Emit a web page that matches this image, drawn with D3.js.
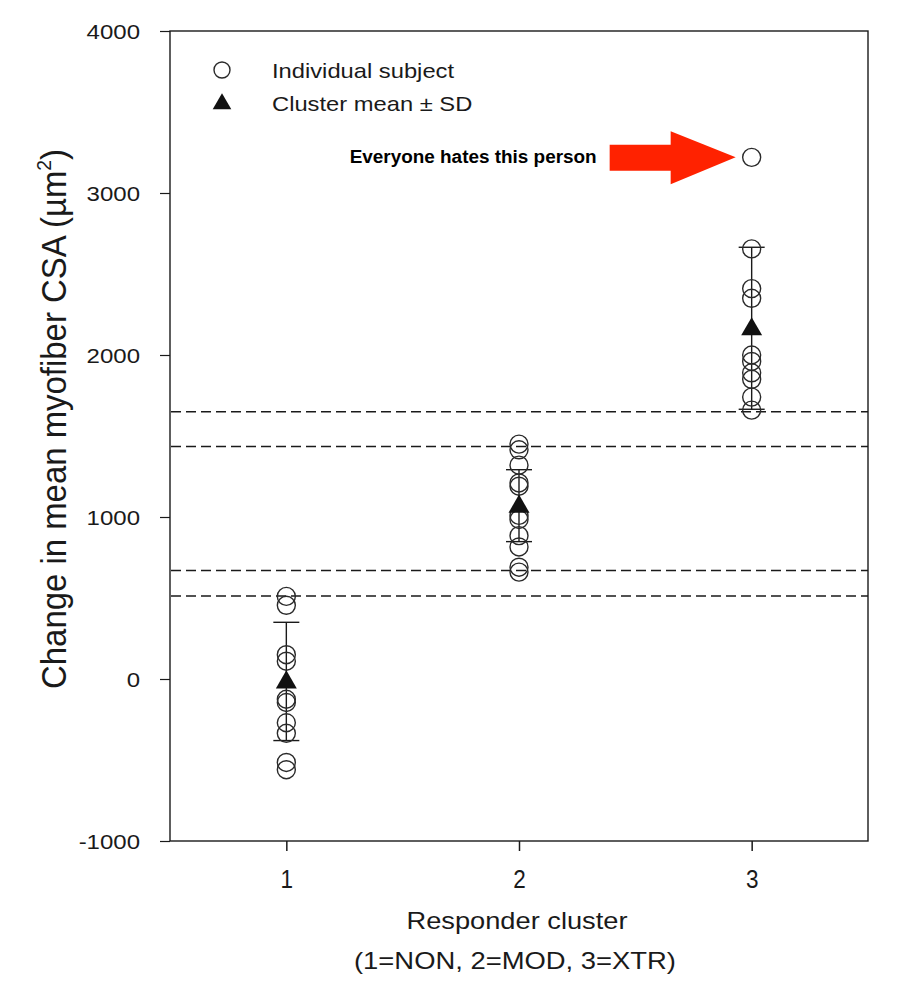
<!DOCTYPE html>
<html>
<head>
<meta charset="utf-8">
<script src="https://cdn.jsdelivr.net/npm/d3@7"></script>
<style>
  body { margin: 0; background: #fff; }
  svg { display: block; font-family: "Liberation Sans", Arial, Helvetica, sans-serif; }
</style>
</head>
<body>
<svg id="chart" width="916" height="986"></svg>
<script>
// ---- data ----
const clusters = [1, 2, 3];
const clusterLabels = ["1", "2", "3"];
const cluster1Values = [510, 455, 150, 110, -125, -145, -270, -335, -515, -560];
const cluster2Values = [1450, 1415, 1320, 1210, 1190, 1010, 985, 885, 815, 690, 660];
const cluster3Values = [3220, 2655, 2410, 2350, 2000, 1960, 1890, 1850, 1740, 1660];
const clusterMeans = [-15, 1070, 2165];
const clusterSD = [365, 222, 500];
const thresholdLines = [1650, 1435, 670, 512];
const yTicks = [-1000, 0, 1000, 2000, 3000, 4000];
const outlier = { cluster: 3, value: 3220, label: "Everyone hates this person" };

// ---- layout ----
const svg = d3.select("#chart");
const L = 170, R = 868, T = 31, B = 841;
const x = d3.scaleLinear().domain([0.5, 3.5]).range([L, R]);
const y = d3.scaleLinear().domain([-1000, 4000]).range([B, T]);
const ink = "#1a1a1a";
const STRETCH = 1.18;

function stretch(sel, f) {
  sel.each(function () {
    const n = this.getComputedTextLength();
    d3.select(this).attr("textLength", n * f).attr("lengthAdjust", "spacingAndGlyphs");
  });
}

// frame
svg.append("rect").attr("x", L).attr("y", T).attr("width", R - L).attr("height", B - T)
  .attr("fill", "none").attr("stroke", ink).attr("stroke-width", 1.4);

// y axis
const yAxis = svg.append("g").attr("transform", `translate(${L},0)`)
  .call(d3.axisLeft(y).tickValues(yTicks).tickSize(10).tickPadding(20).tickFormat(d => String(d)));
yAxis.select(".domain").remove();
yAxis.selectAll(".tick line").attr("stroke", ink).attr("stroke-width", 1.2);
yAxis.selectAll(".tick text").attr("font-size", 20).attr("fill", ink).attr("dy", "0.36em")
  .attr("font-family", "Liberation Sans, Arial, sans-serif").call(stretch, 1.2);

// x axis
const xAxis = svg.append("g").attr("transform", `translate(0,${B})`)
  .call(d3.axisBottom(x).tickValues(clusters).tickSize(10).tickPadding(22)
    .tickFormat((d, i) => clusterLabels[i]));
xAxis.select(".domain").remove();
xAxis.selectAll(".tick line").attr("stroke", ink).attr("stroke-width", 1.5);
xAxis.selectAll(".tick text").attr("font-size", 25).attr("fill", ink).attr("dy", "0.6em")
  .attr("font-family", "Liberation Sans, Arial, sans-serif").call(stretch, 0.9);

// axis titles
svg.append("text").attr("x", (L + R) / 2 - 2).attr("y", 929).attr("text-anchor", "middle")
  .attr("font-size", 24).attr("fill", ink).text("Responder cluster").attr("textLength", 221)
  .attr("lengthAdjust", "spacingAndGlyphs");
svg.append("text").attr("x", (L + R) / 2 - 4).attr("y", 969).attr("text-anchor", "middle")
  .attr("font-size", 24).attr("fill", ink).text("(1=NON, 2=MOD, 3=XTR)").attr("textLength", 322)
  .attr("lengthAdjust", "spacingAndGlyphs");

const yTitle = svg.append("text")
  .attr("transform", `translate(66,${(148 + 690) / 2}) scale(1.22,1) rotate(-90)`)
  .attr("text-anchor", "middle").attr("font-size", 29).attr("fill", ink);
yTitle.append("tspan").text("Change in mean myofiber CSA (µm");
yTitle.append("tspan").attr("font-size", 17).attr("dy", -12).text("2");
yTitle.append("tspan").attr("dy", 12).text(")");
yTitle.attr("textLength", 540).attr("lengthAdjust", "spacingAndGlyphs");

// threshold dashed lines
svg.append("g").selectAll("line").data(thresholdLines).join("line")
  .attr("x1", L + 1).attr("x2", R).attr("y1", d => y(d)).attr("y2", d => y(d))
  .attr("stroke", ink).attr("stroke-width", 1.4).attr("stroke-dasharray", "10,5");

// error bars
const eb = svg.append("g");
clusters.forEach((c, i) => {
  const lo = clusterMeans[i] - clusterSD[i], hi = clusterMeans[i] + clusterSD[i];
  eb.append("line").attr("x1", x(c)).attr("x2", x(c)).attr("y1", y(lo)).attr("y2", y(hi))
    .attr("stroke", ink).attr("stroke-width", 1.4);
  [lo, hi].forEach(v => eb.append("line").attr("x1", x(c) - 13).attr("x2", x(c) + 13)
    .attr("y1", y(v)).attr("y2", y(v)).attr("stroke", ink).attr("stroke-width", 1.4));
});

// individual subjects
const pts = [];
[cluster1Values, cluster2Values, cluster3Values].forEach((arr, i) =>
  arr.forEach(v => pts.push({ c: clusters[i], v })));
svg.append("g").selectAll("circle").data(pts).join("circle")
  .attr("cx", d => x(d.c)).attr("cy", d => y(d.v)).attr("r", 9)
  .attr("fill", "none").attr("stroke", "#2a2a2a").attr("stroke-width", 1.4);

// cluster means
const tri = d3.symbol().type(d3.symbolTriangle).size(190);
svg.append("g").selectAll("path").data(clusterMeans).join("path")
  .attr("d", tri).attr("transform", (d, i) => `translate(${x(clusters[i])},${y(d) + 1})`)
  .attr("fill", "#111");

// legend
svg.append("circle").attr("cx", 222).attr("cy", 70).attr("r", 8).attr("fill", "none")
  .attr("stroke", "#2a2a2a").attr("stroke-width", 1.4);
svg.append("path").attr("d", d3.symbol().type(d3.symbolTriangle).size(150))
  .attr("transform", "translate(222,104)").attr("fill", "#111");
svg.append("text").attr("x", 272).attr("y", 78).attr("font-size", 21).attr("fill", ink)
  .text("Individual subject").call(stretch, 1.13);
svg.append("text").attr("x", 272).attr("y", 111).attr("font-size", 21).attr("fill", ink)
  .text("Cluster mean ± SD").call(stretch, 1.13);

// annotation arrow
const ox = x(outlier.cluster), oy = y(outlier.value);
const tipX = ox - 16, headX = ox - 81, tailX = ox - 142;
const arrowPts = [
  [tailX, oy - 12.5], [headX, oy - 12.5], [headX, oy - 26], [tipX, oy],
  [headX, oy + 27], [headX, oy + 13.5], [tailX, oy + 13.5]
];
svg.append("path").attr("d", d3.line()(arrowPts) + "Z").attr("fill", "#ff2200");
svg.append("text").attr("x", tailX - 13).attr("y", oy + 6).attr("text-anchor", "end")
  .attr("font-size", 17.5).attr("font-weight", "bold").attr("fill", "#000")
  .text(outlier.label).attr("textLength", 247).attr("lengthAdjust", "spacingAndGlyphs");
</script>
</body>
</html>
